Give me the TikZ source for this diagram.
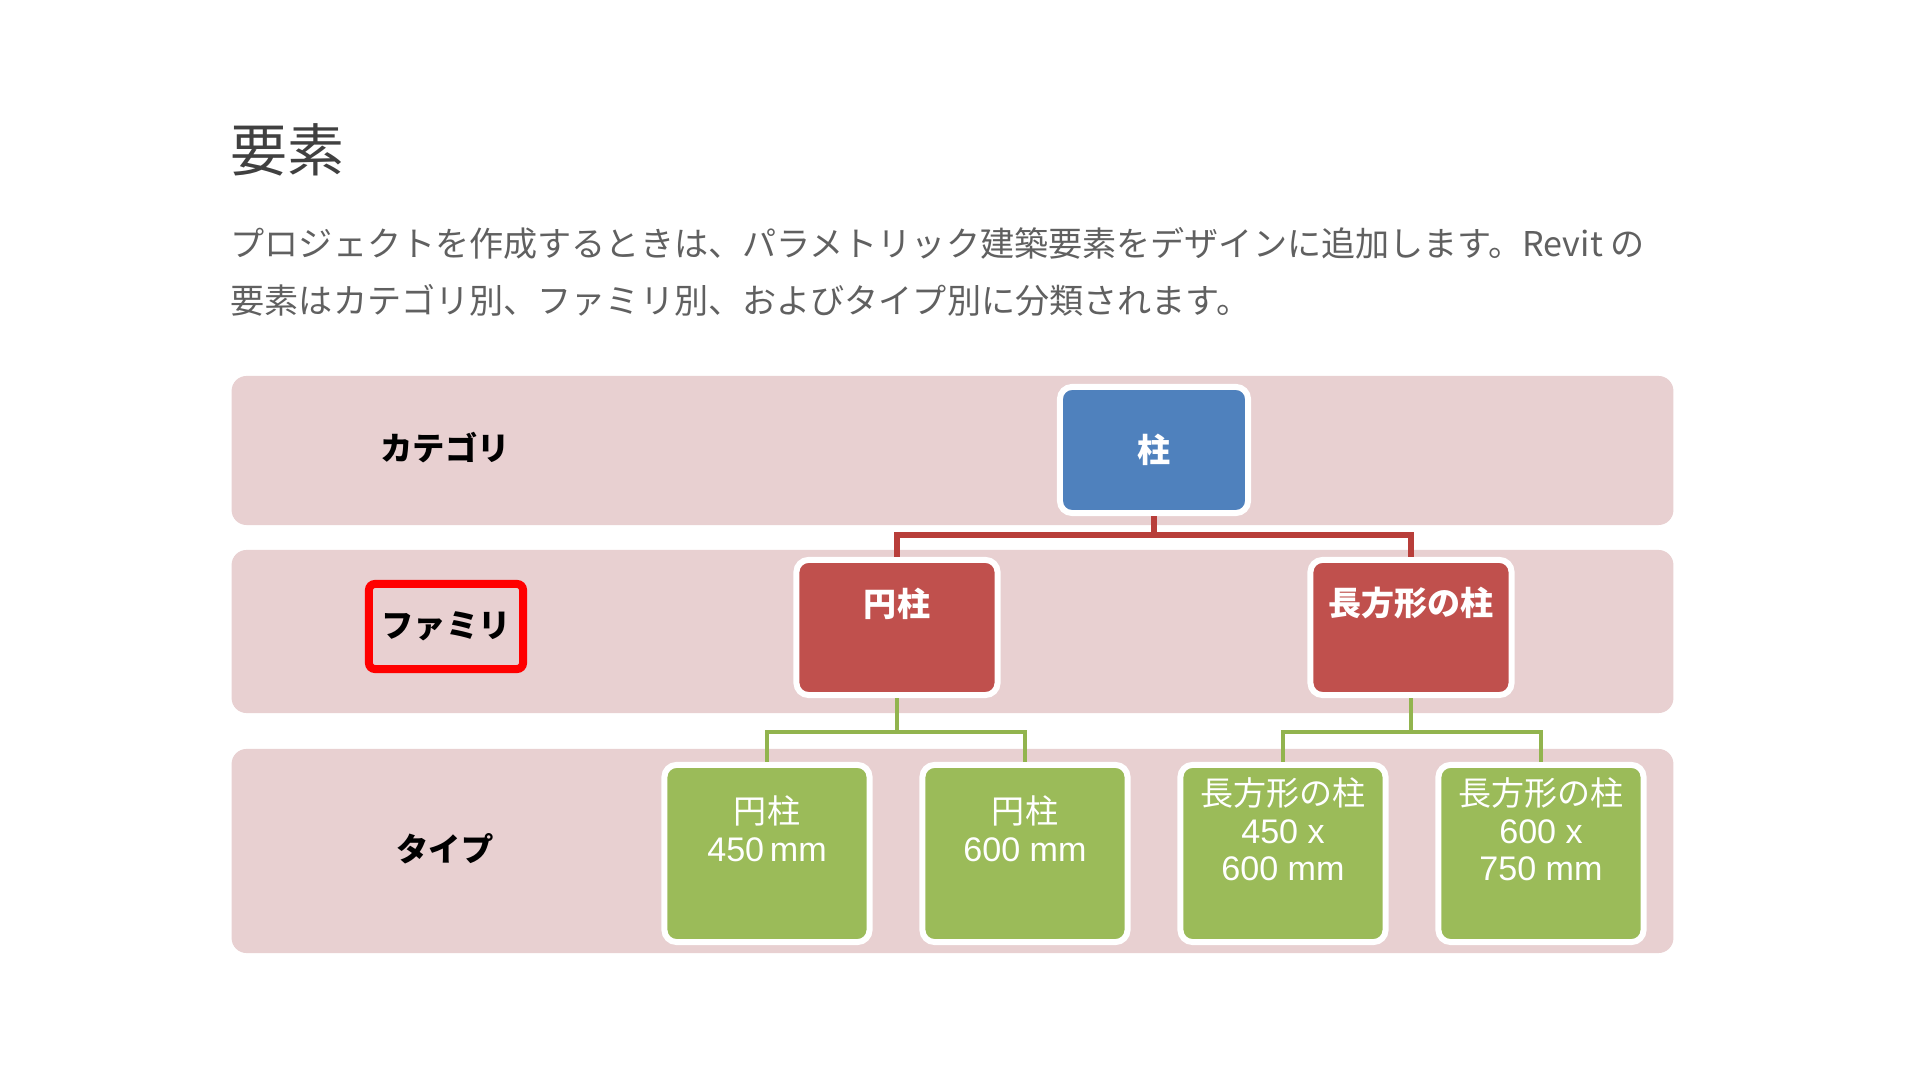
\documentclass[tikz,border=0pt]{standalone}
\usepackage{fontspec}
\setmainfont{Noto Sans CJK JP}
\newfontfamily\arialfont{Liberation Sans}
\definecolor{bandpink}{RGB}{232,208,209}
\definecolor{catblue}{RGB}{79,129,189}
\definecolor{famred}{RGB}{192,80,77}
\definecolor{typegreen}{RGB}{155,187,89}
\definecolor{redline}{RGB}{184,62,58}
\definecolor{greenline}{RGB}{146,180,78}
\definecolor{titlegray}{RGB}{64,64,64}
\definecolor{bodygray}{RGB}{96,96,96}
\newcommand{\mmtext}[1]{{\arialfont\fontsize{9.7}{10.7}\selectfont #1}}

\begin{document}
\begin{tikzpicture}[x=0.01cm, y=-0.01cm,
    band/.style={fill=bandpink, rounded corners=0.15cm, minimum width=14.41cm},
    bandlabel/.style={text=black, font=\fontsize{9.2}{11}\selectfont\bfseries},
    box/.style={draw=white, line width=1.7pt, rounded corners=0.12cm},
    catbox/.style={box, fill=catblue, minimum width=1.88cm, minimum height=1.26cm,
      text=white, font=\fontsize{9.4}{11}\selectfont\bfseries},
    fambox/.style={box, fill=famred, minimum width=2.01cm, minimum height=1.35cm},
    typebox/.style={box, fill=typegreen, minimum width=2.05cm, minimum height=1.77cm},
    famtext/.style={text=white, inner sep=0pt, font=\fontsize{9.4}{11}\selectfont\bfseries},
    typetext/.style={text=white, inner sep=0pt, align=center,
      font=\fontsize{9.4}{10.7}\selectfont},
    redlink/.style={draw=redline, line width=1.7pt},
    greenlink/.style={draw=greenline, line width=1.4pt}]
  \useasboundingbox (0, 0) rectangle (1920, 1080);

  \node (title) at (230, 172) [anchor=base west, inner sep=0pt, text=titlegray,
    font=\fontsize{16.2}{19}\selectfont] {要素};
  \node (intro1) at (230, 257) [anchor=base west, inner sep=0pt, text=bodygray,
    font=\fontsize{9.7}{16}\selectfont] {プロジェクトを作成するときは、パラメトリック建築要素をデザインに追加します。Revit の};
  \node (intro2) at (230, 314) [anchor=base west, inner sep=0pt, text=bodygray,
    font=\fontsize{9.7}{16}\selectfont] {要素はカテゴリ別、ファミリ別、およびタイプ別に分類されます。};

  \node (catband) at (952.5, 450.5) [band, minimum height=1.49cm] {};
  \node (famband) at (952.5, 631.5) [band, minimum height=1.63cm] {};
  \node (typeband) at (952.5, 851) [band, minimum height=2.04cm] {};

  \node (catlabel) at (445, 448) [bandlabel] {カテゴリ};
  \node (famlabel) at (446, 626) [bandlabel] {ファミリ};
  \node (typelabel) at (445, 849) [bandlabel] {タイプ};
  \node (fammark) at (446, 626.5) [draw=red, line width=2.28pt, rounded corners=0.06cm,
    minimum width=1.54cm, minimum height=0.85cm] {};

  \node (column) at (1154, 450) [catbox] {柱};

  \node (round) at (897, 627.5) [fambox] {};
  \node (rect) at (1411, 627.5) [fambox] {};
  \node (roundtext) at ([yshift=0.24cm]round.center) [famtext] {円柱};
  \node (recttext) at ([yshift=0.24cm]rect.center) [famtext] {長方形の柱};

  \node (round450) at (767, 853.5) [typebox] {};
  \node (round600) at (1025, 853.5) [typebox] {};
  \node (rect450) at (1283, 853.5) [typebox] {};
  \node (rect600) at (1541, 853.5) [typebox] {};
  \node (round450text) at ([yshift=0.25cm]round450.center) [typetext] {円柱\\\mmtext{450\,mm}};
  \node (round600text) at ([yshift=0.25cm]round600.center) [typetext] {円柱\\\mmtext{600 mm}};
  \node (rect450text) at ([yshift=0.24cm]rect450.center) [typetext]
    {長方形の柱\\\mmtext{450 x}\\\mmtext{600 mm}};
  \node (rect600text) at ([yshift=0.24cm]rect600.center) [typetext]
    {長方形の柱\\\mmtext{600 x}\\\mmtext{750 mm}};

  \coordinate (columnjoin) at (1154, 535);
  \draw [redlink] (column) -- (columnjoin) -| (round);
  \draw [redlink] (columnjoin) -| (rect);

  \coordinate (roundjoin) at (897, 732);
  \draw [greenlink] (round) -- (roundjoin) -| (round450);
  \draw [greenlink] (roundjoin) -| (round600);
  \coordinate (rectjoin) at (1411, 732);
  \draw [greenlink] (rect) -- (rectjoin) -| (rect450);
  \draw [greenlink] (rectjoin) -| (rect600);
\end{tikzpicture}
\end{document}
